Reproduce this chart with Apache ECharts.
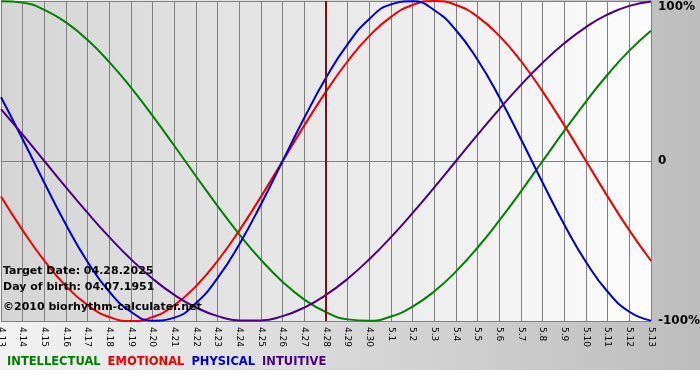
<!DOCTYPE html>
<html><head><meta charset="utf-8">
<script src="https://cdn.jsdelivr.net/npm/echarts@6/dist/echarts.min.js"></script>
<style>
html,body{margin:0;padding:0;background:#fff;}
#c{width:700px;height:380px;background:linear-gradient(to right,#f2f2f2,#bdbdbd) no-repeat;background-size:700px 370px;}
</style></head><body><div id="c"></div>
<script>
const dates = ['4.13','4.14','4.15','4.16','4.17','4.18','4.19','4.20','4.21','4.22','4.23','4.24','4.25','4.26','4.27','4.28','4.29','4.30','5.1','5.2','5.3','5.4','5.5','5.6','5.7','5.8','5.9','5.10','5.11','5.12','5.13'];
const intellectual = [99.89,98.98,94.50,86.60,75.57,61.82,45.82,28.17,9.51,-9.51,-28.17,-45.82,-61.82,-75.57,-86.60,-94.50,-98.98,-99.89,-97.18,-90.96,-81.46,-69.01,-54.06,-37.17,-18.93,0,18.93,37.17,54.06,69.01,81.46];
const emotional = [-22.25,-43.39,-62.35,-78.18,-90.10,-97.49,-100,-97.49,-90.10,-78.18,-62.35,-43.39,-22.25,0,22.25,43.39,62.35,78.18,90.10,97.49,100,97.49,90.10,78.18,62.35,43.39,22.25,0,-22.25,-43.39,-62.35];
const physical = [39.84,13.62,-13.62,-39.84,-63.11,-81.70,-94.23,-99.77,-97.91,-88.79,-73.08,-51.96,-26.98,0,26.98,51.96,73.08,88.79,97.91,99.77,94.23,81.70,63.11,39.84,13.62,-13.62,-39.84,-63.11,-81.70,-94.23,-99.77];
const intuitive = [32.47,16.46,0,-16.46,-32.47,-47.59,-61.42,-73.57,-83.72,-91.58,-96.94,-99.66,-99.66,-96.94,-91.58,-83.72,-73.57,-61.42,-47.59,-32.47,-16.46,0,16.46,32.47,47.59,61.42,73.57,83.72,91.58,96.94,99.66];
const targetDate = '4.28';
const infoLines = ['Target Date: 04.28.2025','Day of birth: 04.07.1951','\u00a92010 biorhythm-calculater.net'];

const chart = echarts.init(document.getElementById('c'), null, {renderer:'canvas'});
const FONT = '"DejaVu Sans", Verdana, sans-serif';
function line(name, data, color, extra) {
  return Object.assign({
    name: name, type: 'line', data: data, smooth: true, symbol: 'none',
    lineStyle: {color: color, width: 2}, itemStyle: {color: color}, clip: true
  }, extra || {});
}
chart.setOption({
  backgroundColor: 'transparent',
  animation: false,
  grid: {
    left: 1, right: 49, top: 1, bottom: 59, show: true, borderWidth: 0,
    outerBoundsMode: 'none', containLabel: false,
    backgroundColor: new echarts.graphic.LinearGradient(0,0,1,0,[{offset:0,color:'#d5d5d5'},{offset:1,color:'#fcfcfc'}])
  },
  legend: {
    left: 2, top: 356, padding: 0, icon: 'none', itemWidth: 0, itemHeight: 0, itemGap: 2,
    selectedMode: false,
    textStyle: {fontFamily: FONT, fontWeight: 'bold', fontSize: 11.5},
    data: [
      {name:'INTELLECTUAL', textStyle:{color:'#008000'}},
      {name:'EMOTIONAL', textStyle:{color:'#f00000'}},
      {name:'PHYSICAL', textStyle:{color:'#0000cc'}},
      {name:'INTUITIVE', textStyle:{color:'#4b0082'}}
    ]
  },
  xAxis: {
    type: 'category', data: dates, boundaryGap: false,
    axisLine: {show: true, lineStyle: {color: '#808080', width: 1}},
    axisTick: {show: true, length: 4, lineStyle: {color: '#808080'}, alignWithLabel: true},
    axisLabel: {rotate: -90, interval: 0, fontSize: 9, fontFamily: FONT, color: '#000', margin: 6, hideOverlap: false},
    splitLine: {show: true, lineStyle: {color: '#808080', width: 1}}
  },
  yAxis: {
    type: 'value', min: -100, max: 100, interval: 100, position: 'right',
    axisLine: {show: false}, axisTick: {show: false},
    splitLine: {show: true, lineStyle: {color: '#808080', width: 1}},
    axisLabel: {
      margin: 7, color: '#000', fontFamily: FONT, fontWeight: 'bold', fontSize: 12,
      formatter: function (v) { return v === 100 ? '{t|100%}' : (v === 0 ? '0' : v + '%'); },
      rich: {t: {fontFamily: FONT, fontWeight: 'bold', fontSize: 12, color: '#000', padding: [12,0,0,0]}}
    }
  },
  series: [
    line('INTELLECTUAL', intellectual, '#008000'),
    line('EMOTIONAL', emotional, '#f00000', {
      markLine: {
        silent: true, symbol: ['none','none'], label: {show: false},
        lineStyle: {color: '#7a1212', width: 2, type: 'solid'},
        data: [{xAxis: targetDate}]
      }
    }),
    line('PHYSICAL', physical, '#0000cc'),
    line('INTUITIVE', intuitive, '#4b0082')
  ],
  graphic: infoLines.map(function (t, i) {
    return {type: 'text', left: 3, top: [266, 282, 302][i], z: 100,
      style: {text: t, font: 'bold 11px ' + FONT, fill: '#000'}};
  })
});
</script></body></html>
